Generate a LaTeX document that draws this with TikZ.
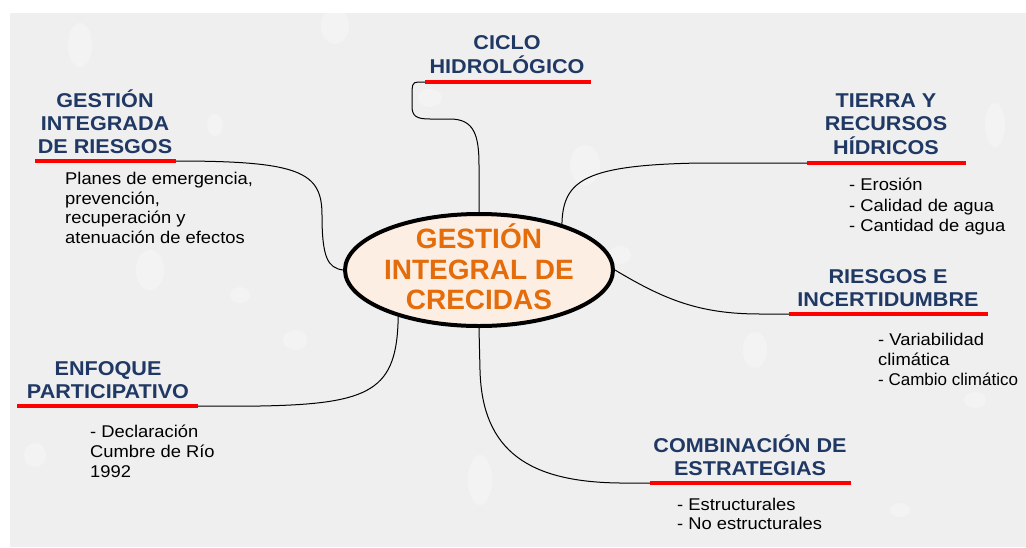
\documentclass[tikz,border=0pt]{standalone}
\usepackage{fontspec}
\setmainfont{Liberation Sans}
\newfontfamily\stfont[FakeStretch=1.08]{Liberation Sans}
\usetikzlibrary{shapes.geometric}
\definecolor{bgray}{HTML}{EFEFEF}
\definecolor{navy}{HTML}{1F3864}
\definecolor{orng}{HTML}{E46C0A}
\definecolor{peach}{HTML}{FDEEE3}
\definecolor{redu}{HTML}{FF0000}
\begin{document}
\begin{tikzpicture}[x=1pt,y=-1pt,
  head/.style={anchor=base,inner sep=0pt,text=navy,font=\stfont\bfseries\fontsize{20}{23}\selectfont},
  body/.style={anchor=base west,inner sep=0pt,text=black,font=\stfont\fontsize{17}{20}\selectfont},
  bodyn/.style={anchor=base west,inner sep=0pt,text=black,font=\fontsize{17}{20}\selectfont},
  coretxt/.style={anchor=base,inner sep=0pt,text=orng,font=\bfseries\fontsize{28}{31}\selectfont},
  redline/.style={draw=redu,line width=4pt},
  link/.style={draw=black,line width=1pt},
  drop/.style={fill=white,opacity=0.28,draw=none}]
\useasboundingbox (0,0) rectangle (1026,547);
\fill[white] (0,0) rectangle (1026,547);
\fill[bgray] (10,13) rectangle (1026,547);
% faint water drops
\fill[drop] (80,45) ellipse (12 and 22);
\fill[drop] (215,125) ellipse (8 and 11);
\fill[drop] (335,26) ellipse (14 and 18);
\fill[drop] (430,98) ellipse (12 and 9);
\fill[drop] (585,165) ellipse (15 and 20);
\fill[drop] (755,350) ellipse (12 and 18);
\fill[drop] (620,255) ellipse (11 and 9);
\fill[drop] (975,400) ellipse (11 and 8);
\fill[drop] (295,340) ellipse (12 and 10);
\fill[drop] (35,455) ellipse (11 and 12);
\fill[drop] (240,295) ellipse (10 and 8);
\fill[drop] (150,270) ellipse (14 and 20);
\fill[drop] (995,125) ellipse (10 and 22);
\fill[drop] (900,510) ellipse (10 and 7);
\fill[drop] (480,480) ellipse (12 and 25);

% central ellipse
\node[ellipse,draw=black,line width=4pt,fill=peach,minimum width=268pt,minimum height=112pt,inner sep=0pt] (core) at (479,270) {};
\node[coretxt] (c1) at (479,248) {GESTIÓN};
\node[coretxt] (c2) at (479,279) {INTEGRAL DE};
\node[coretxt] (c3) at (479,309) {CRECIDAS};

% GESTION INTEGRADA DE RIESGOS
\node[head] (g1) at (105,107) {GESTIÓN};
\node[head] (g2) at (105,130) {INTEGRADA};
\node[head] (g3) at (105,153) {DE RIESGOS};
\coordinate (gL) at (35,161); \coordinate (gR) at (176,161);
\draw[redline] (gL) -- (gR);
\node[body] (gb1) at (65,184) {Planes de emergencia,};
\node[body] (gb2) at (65,204) {prevención,};
\node[body] (gb3) at (65,223) {recuperación y};
\node[body] (gb4) at (65,243) {atenuación de efectos};
\draw[link] (gR) .. controls (300,161) and (322,172) .. (322,215) .. controls (322,258) and (328,268) .. (core.west);

% CICLO HIDROLOGICO
\node[head] (h1) at (507,49) {CICLO};
\node[head] (h2) at (507,73) {HIDROLÓGICO};
\coordinate (hL) at (425,82); \coordinate (hR) at (591,82);
\draw[redline] (hL) -- (hR);
\draw[link] (hL) -- (418,82) .. controls (412,82) and (412,86) .. (412,95) -- (412,106) .. controls (412,116) and (416,119) .. (430,119) -- (450,119) .. controls (474,119) and (479,135) .. (479,165) -- (core.north);

% TIERRA Y RECURSOS HIDRICOS
\node[head] (t1) at (886,107) {TIERRA Y};
\node[head] (t2) at (886,130) {RECURSOS};
\node[head] (t3) at (886,154) {HÍDRICOS};
\coordinate (tL) at (807,163); \coordinate (tR) at (966,163);
\draw[redline] (tL) -- (tR);
\node[body] (tb1) at (849,190) {- Erosión};
\node[body] (tb2) at (849,211) {- Calidad de agua};
\node[body] (tb3) at (849,231) {- Cantidad de agua};
\draw[link] (tL) -- (700,163) .. controls (585,165) and (563,180) .. (core.29);

% RIESGOS E INCERTIDUMBRE
\node[head] (r1) at (888,283) {RIESGOS E};
\node[head] (r2) at (888,306) {INCERTIDUMBRE};
\coordinate (rL) at (789,314); \coordinate (rR) at (988,314);
\draw[redline] (rL) -- (rR);
\node[body] (rb1) at (878,345) {- Variabilidad};
\node[body] (rb2) at (878,365) {climática};
\node[bodyn] (rb3) at (878,385) {- Cambio climático};
\draw[link] (core.east) .. controls (665,300) and (700,314) .. (760,314) -- (rL);

% ENFOQUE PARTICIPATIVO
\node[head] (e1) at (108,375) {ENFOQUE};
\node[head] (e2) at (108,398) {PARTICIPATIVO};
\coordinate (eL) at (17,406); \coordinate (eR) at (198,406);
\draw[redline] (eL) -- (eR);
\node[body] (eb1) at (90,437) {- Declaración};
\node[body] (eb2) at (90,457) {Cumbre de Río};
\node[body] (eb3) at (90,477) {1992};
\draw[link] (eR) -- (260,406) .. controls (372,404) and (397,390) .. (core.210);

% COMBINACION DE ESTRATEGIAS
\node[head] (k1) at (750,452) {COMBINACIÓN DE};
\node[head] (k2) at (750,475) {ESTRATEGIAS};
\coordinate (kL) at (650,483); \coordinate (kR) at (851,483);
\draw[redline] (kL) -- (kR);
\node[body] (kb1) at (677,510) {- Estructurales};
\node[body] (kb2) at (677,529) {- No estructurales};
\draw[link] (core.south) -- (480,370) .. controls (482,452) and (530,482) .. (620,483) -- (kL);
\end{tikzpicture}
\end{document}
